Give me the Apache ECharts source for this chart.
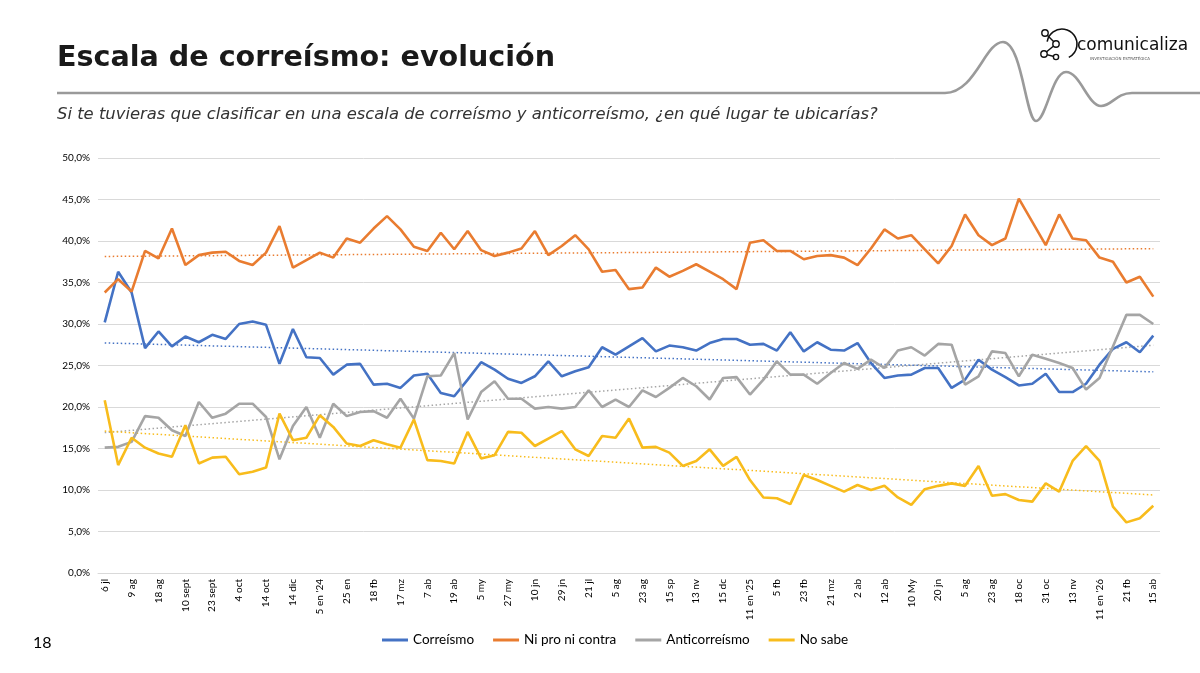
<!DOCTYPE html>
<html>
<head>
<meta charset="utf-8">
<script src="https://cdn.jsdelivr.net/npm/echarts@6/dist/echarts.min.js"></script>
<style>
html,body{margin:0;padding:0;background:#fff;}
#chart{width:1200px;height:673px;}
</style>
</head>
<body>
<div id="chart"></div>
<script>
// Tick labels (shown on every other category)
const tickLabels = ['6 jl','9 ag','18 ag','10 sept','23 sept','4 oct','14 oct','14 dic',"5 en '24",'25 en','18 fb','17 mz','7 ab','19 ab','5 my','27 my','10 jn','29 jn','21 jl','5 ag','23 ag','15 sp','13 nv','15 dc',"11 en '25",'5 fb','23 fb','21 mz','2 ab','12 ab','10 My','20 jn','5 ag','23 ag','18 oc','31 oc','13 nv',"11 en '26",'21 fb','15 ab'];

const seriesNames = ['Correísmo','Ni pro ni contra','Anticorreísmo','No sabe'];

const correismo = [30.2,36.3,33.8,27.1,29.1,27.3,28.5,27.8,28.7,28.2,30.0,30.3,29.9,25.2,29.4,26.0,25.9,23.9,25.1,25.2,22.7,22.8,22.3,23.8,24.0,21.7,21.3,23.3,25.4,24.5,23.4,22.9,23.7,25.5,23.7,24.3,24.8,27.2,26.3,27.3,28.3,26.7,27.4,27.2,26.8,27.7,28.2,28.2,27.5,27.6,26.8,29.0,26.7,27.8,26.9,26.8,27.7,25.3,23.5,23.8,23.9,24.7,24.7,22.3,23.3,25.7,24.5,23.6,22.6,22.8,24.0,21.8,21.8,22.8,25.1,27.0,27.8,26.6,28.6];
const niProNiContra = [33.8,35.4,33.9,38.8,37.9,41.5,37.1,38.3,38.6,38.7,37.6,37.1,38.6,41.8,36.8,37.7,38.6,38.0,40.3,39.8,41.5,43.0,41.4,39.3,38.8,41.0,39.0,41.2,38.9,38.2,38.6,39.1,41.2,38.3,39.4,40.7,39.0,36.3,36.5,34.2,34.4,36.8,35.7,36.4,37.2,36.3,35.4,34.2,39.8,40.1,38.8,38.8,37.8,38.2,38.3,38.0,37.1,39.1,41.4,40.3,40.7,39.0,37.3,39.4,43.2,40.7,39.5,40.3,45.1,42.3,39.5,43.2,40.3,40.1,38.0,37.5,35.0,35.7,33.3];
const anticorreismo = [15.1,15.2,15.8,18.9,18.7,17.2,16.5,20.6,18.7,19.2,20.4,20.4,18.8,13.7,17.7,20.0,16.3,20.4,18.9,19.4,19.5,18.7,21.0,18.6,23.7,23.8,26.5,18.5,21.8,23.1,21.0,21.0,19.8,20.0,19.8,20.0,22.0,20.0,20.9,20.0,22.0,21.2,22.3,23.5,22.5,20.9,23.5,23.6,21.5,23.3,25.5,23.9,23.9,22.8,24.1,25.3,24.6,25.7,24.7,26.8,27.2,26.2,27.6,27.5,22.7,23.7,26.7,26.5,23.7,26.3,25.8,25.3,24.7,22.1,23.5,27.3,31.1,31.1,30.0];
const noSabe = [20.8,13.0,16.3,15.1,14.4,14.0,17.8,13.2,13.9,14.0,11.9,12.2,12.7,19.2,16.0,16.3,19.0,17.6,15.6,15.3,16.0,15.5,15.1,18.5,13.6,13.5,13.2,17.0,13.8,14.2,17.0,16.9,15.3,16.2,17.1,14.9,14.1,16.5,16.3,18.6,15.1,15.2,14.5,12.9,13.5,14.9,12.9,14.0,11.2,9.1,9.0,8.3,11.8,11.2,10.5,9.8,10.6,10.0,10.5,9.1,8.2,10.1,10.5,10.8,10.5,12.9,9.3,9.5,8.8,8.6,10.8,9.8,13.5,15.3,13.5,8.0,6.1,6.6,8.1];

const colors = ['#4472C4','#E97C30','#A5A5A5','#F8BC1C'];

// categories: one per poll; only every other one is labelled in the source
const categories = correismo.map((_, i) => (i % 2 === 0 ? tickLabels[i / 2] : ''));

function trend(vals) {
  const n = vals.length;
  let sx = 0, sy = 0, sxy = 0, sxx = 0;
  vals.forEach((y, x) => { sx += x; sy += y; sxy += x * y; sxx += x * x; });
  const b = (n * sxy - sx * sy) / (n * sxx - sx * sx);
  const a = (sy - b * sx) / n;
  return [[0, a], [n - 1, a + b * (n - 1)]];
}

const allData = [correismo, niProNiContra, anticorreismo, noSabe];

const mainSeries = allData.map((d, k) => ({
  name: seriesNames[k],
  type: 'line',
  data: d,
  symbol: 'none',
  z: 3,
  lineStyle: { width: 2.6, color: colors[k] },
  itemStyle: { color: colors[k] }
}));
const trendSeries = allData.map((d, k) => ({
  name: 'trend' + k,
  type: 'line',
  data: trend(d),
  symbol: 'none',
  z: 2,
  silent: true,
  lineStyle: { width: 1.5, type: [1.5, 2.5], color: colors[k] },
  itemStyle: { color: colors[k] }
}));

const waveStyle = { stroke: '#9a9a9a', lineWidth: 2.6, fill: null };
function bz(x1, y1, c1x, c1y, c2x, c2y, x2, y2) {
  return { type: 'bezierCurve', shape: { x1, y1, cpx1: c1x, cpy1: c1y, cpx2: c2x, cpy2: c2y, x2, y2 }, style: waveStyle };
}
function circ(cx, cy, r) {
  return { type: 'circle', shape: { cx, cy, r }, style: { stroke: '#111', lineWidth: 1.4, fill: '#fff' }, z: 10 };
}

const chart = echarts.init(document.getElementById('chart'), null, { renderer: 'canvas' });
chart.setOption({
  backgroundColor: '#ffffff',
  animation: false,
  textStyle: { fontFamily: 'Lato, "Liberation Sans", sans-serif' },
  grid: { left: 98, right: 40, top: 158, bottom: 100, containLabel: false },
  legend: {
    data: seriesNames,
    bottom: 21,
    left: 377,
    icon: 'rect',
    itemWidth: 26,
    itemHeight: 3,
    itemGap: 19,
    textStyle: { fontSize: 13.5, color: '#000', fontFamily: 'Lato, sans-serif' }
  },
  xAxis: {
    type: 'category',
    data: categories,
    boundaryGap: true,
    axisLine: { lineStyle: { color: '#d9d9d9', width: 1 } },
    axisTick: { show: false },
    axisLabel: { rotate: 90, interval: 1, fontSize: 10, color: '#000', margin: 6 }
  },
  yAxis: {
    type: 'value',
    min: 0, max: 50, interval: 5,
    axisLine: { show: false },
    axisTick: { show: false },
    splitLine: { lineStyle: { color: '#d9d9d9', width: 1 } },
    axisLabel: {
      fontSize: 10, color: '#000', margin: 8,
      formatter: v => v.toFixed(1).replace('.', ',') + '%'
    }
  },
  series: mainSeries.concat(trendSeries),
  graphic: [
    { type: 'text', x: 57, y: 44, style: { text: 'Escala de correísmo: evolución', font: 'bold 28.6px "DejaVu Sans", Verdana, sans-serif', fill: '#1a1a1a' } },
    { type: 'text', x: 57, y: 107, style: { text: 'Si te tuvieras que clasificar en una escala de correísmo y anticorreísmo, ¿en qué lugar te ubicarías?', font: 'italic 16.4px "DejaVu Sans", Verdana, sans-serif', fill: '#333' } },
    { type: 'line', shape: { x1: 57, y1: 93, x2: 945, y2: 93 }, style: waveStyle },
    bz(945, 93, 975, 93, 985, 42, 1003, 42),
    bz(1003, 42, 1022, 42, 1026, 121, 1036, 121),
    bz(1036, 121, 1046, 121, 1052, 72, 1066, 72),
    bz(1066, 72, 1080, 72, 1088, 106, 1101, 106),
    bz(1101, 106, 1112, 106, 1116, 93, 1132, 93),
    { type: 'line', shape: { x1: 1132, y1: 93, x2: 1200, y2: 93 }, style: waveStyle },
    { type: 'text', x: 33, y: 635, style: { text: '18', font: '16px Lato, sans-serif', fill: '#000' } },
    // logo
    { type: 'arc', shape: { cx: 1062, cy: 44, r: 15, startAngle: -Math.PI * 0.95, endAngle: Math.PI * 0.35 }, style: { stroke: '#111', lineWidth: 1.6, fill: null } },
    { type: 'polyline', shape: { points: [[1045, 33], [1056, 44], [1044, 54], [1056, 57]] }, style: { stroke: '#111', lineWidth: 1.4, fill: null }, z: 9 },
    circ(1045, 33, 3.2), circ(1056, 44, 3.2), circ(1044, 54, 3.2), circ(1056, 57, 2.6),
    { type: 'text', x: 1077, y: 37, style: { text: 'comunicaliza', font: '17px "DejaVu Sans", sans-serif', fill: '#111' } },
    { type: 'text', x: 1090, y: 57, style: { text: 'INVESTIGACIÓN ESTRATÉGICA', font: '4px "DejaVu Sans", sans-serif', fill: '#555' } }
  ]
});
</script>
</body>
</html>
